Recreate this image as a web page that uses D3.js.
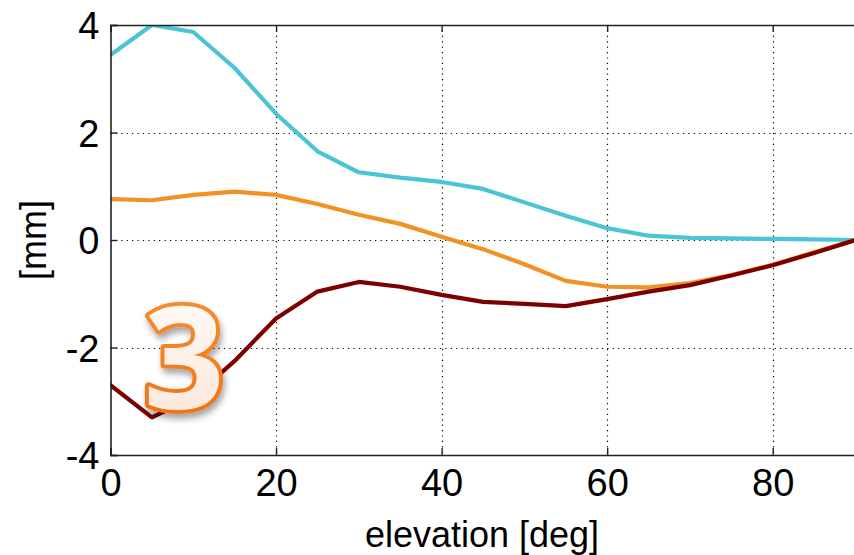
<!DOCTYPE html>
<html>
<head>
<meta charset="utf-8">
<script src="https://cdn.jsdelivr.net/npm/d3@7"></script>
<style>
  html, body { margin: 0; padding: 0; background: #fff; }
  svg { display: block; }
</style>
</head>
<body>
<svg id="chart" width="854" height="555"></svg>
<script>
// Elevation angles (deg) and the three model differences (mm)
const elevation = [0, 5, 10, 15, 20, 25, 30, 35, 40, 45, 50, 55, 60, 65, 70, 75, 80, 85, 90];
const seriesCyan = [3.44, 4.0, 3.87, 3.2, 2.35, 1.65, 1.26, 1.16, 1.08, 0.95, 0.7, 0.45, 0.22, 0.08, 0.04, 0.03, 0.02, 0.01, 0];
const seriesOrange = [0.76, 0.74, 0.84, 0.9, 0.84, 0.67, 0.47, 0.3, 0.06, -0.17, -0.45, -0.76, -0.87, -0.88, -0.8, -0.65, -0.46, -0.23, 0];
const seriesDarkRed = [-2.7, -3.3, -2.93, -2.25, -1.46, -0.96, -0.78, -0.87, -1.02, -1.15, -1.19, -1.23, -1.1, -0.96, -0.84, -0.66, -0.47, -0.24, 0];
const xTicks = [0, 20, 40, 60, 80];
const yTicks = [-4, -2, 0, 2, 4];
const xLabel = "elevation [deg]";
const yLabel = "[mm]";
const badge = "3";

const svg = d3.select("#chart");
const x = d3.scaleLinear().domain([0, 90]).range([110.5, 855.5]);
const y = d3.scaleLinear().domain([-4, 4]).range([455, 25]);
const font = "'Liberation Sans', Arial, Helvetica, sans-serif";
const plain = d => String(d);   // hyphen-minus labels

const defs = svg.append("defs");
defs.append("clipPath").attr("id", "plot-clip")
  .append("rect").attr("x", x(0)).attr("y", y(4))
  .attr("width", x(90) - x(0)).attr("height", y(-4) - y(4));

// dotted grid
const grid = svg.append("g").attr("stroke", "#000").attr("stroke-width", 1.2)
  .attr("stroke-dasharray", "1.2,4.2");
grid.selectAll("line.gx").data(xTicks.filter(d => d > 0)).join("line")
  .attr("x1", d => Math.round(x(d)) + 0.5).attr("x2", d => Math.round(x(d)) + 0.5)
  .attr("y1", y(4)).attr("y2", y(-4));
grid.selectAll("line.gy").data(yTicks.filter(d => d > -4 && d < 4)).join("line")
  .attr("y1", d => Math.round(y(d)) + 0.5).attr("y2", d => Math.round(y(d)) + 0.5)
  .attr("x1", x(0)).attr("x2", x(90));

// curves
const line = d3.line().x((d, i) => x(elevation[i])).y(d => y(d)).curve(d3.curveLinear);
const lines = svg.append("g").attr("clip-path", "url(#plot-clip)")
  .attr("fill", "none").attr("stroke-width", 4.2).attr("stroke-linejoin", "round").attr("stroke-linecap", "round");
[[seriesCyan, "#4bc4d5"], [seriesOrange, "#f39224"], [seriesDarkRed, "#7d0000"]].forEach(([data, color]) => {
  lines.append("path").datum(data).attr("d", line).attr("stroke", color);
});

// axes (inward ticks, box frame)
const xAxis = d3.axisBottom(x).tickValues(xTicks).tickSize(-7).tickPadding(14).tickFormat(plain);
const yAxis = d3.axisLeft(y).tickValues(yTicks).tickSize(-7).tickPadding(11).tickFormat(plain);
const gx = svg.append("g").attr("transform", `translate(0,${y(-4)})`).call(xAxis);
const gy = svg.append("g").attr("transform", `translate(${x(0)},0)`).call(yAxis);
const gxTop = svg.append("g").attr("transform", `translate(0,${y(4)})`).call(d3.axisTop(x).tickValues(xTicks).tickSize(-7).tickFormat(""));
[gx, gy, gxTop].forEach(g => {
  g.selectAll(".domain").attr("stroke", "#222").attr("stroke-width", 1.6);
  g.selectAll(".tick line").attr("stroke", "#222").attr("stroke-width", 1.4);
  g.selectAll("text").attr("font-family", font).attr("font-size", 38).attr("fill", "#000");
});
gy.selectAll(".tick text").attr("dy", "0.36em");
gx.selectAll(".tick text").attr("dy", "0.72em");

// axis titles
svg.append("text").attr("x", 482).attr("y", 547).attr("text-anchor", "middle")
  .attr("font-family", font).attr("font-size", 36).attr("fill", "#000").text(xLabel);
svg.append("text").attr("transform", `translate(46,${y(0)}) rotate(-90)`).attr("text-anchor", "middle")
  .attr("font-family", font).attr("font-size", 36).attr("fill", "#000").text(yLabel);

// badge numeral with gradient fill, orange outline and soft shadow
const grad = defs.append("linearGradient").attr("id", "badge-fill").attr("x1", 0).attr("y1", 0).attr("x2", 0).attr("y2", 1);
grad.append("stop").attr("offset", "0%").attr("stop-color", "#ffffff");
grad.append("stop").attr("offset", "100%").attr("stop-color", "#fbe3d2");
const strokeGrad = defs.append("linearGradient").attr("id", "badge-stroke").attr("x1", 0).attr("y1", 0).attr("x2", 0).attr("y2", 1);
strokeGrad.append("stop").attr("offset", "0%").attr("stop-color", "#f7963a");
strokeGrad.append("stop").attr("offset", "100%").attr("stop-color", "#ef6c0c");
const shadow = defs.append("filter").attr("id", "badge-shadow").attr("x", "-30%").attr("y", "-30%").attr("width", "160%").attr("height", "160%");
shadow.append("feDropShadow").attr("dx", 2).attr("dy", 5).attr("stdDeviation", 3).attr("flood-color", "#000").attr("flood-opacity", 0.35);

svg.append("text").attr("x", 184).attr("y", 409).attr("text-anchor", "middle")
  .attr("font-family", "'Open Sans', 'Noto Sans', sans-serif").attr("font-weight", 700).attr("font-size", 142)
  .attr("fill", "url(#badge-fill)").attr("stroke", "url(#badge-stroke)").attr("stroke-width", 8)
  .attr("paint-order", "stroke").attr("stroke-linejoin", "round")
  .attr("filter", "url(#badge-shadow)").text(badge);
</script>
</body>
</html>
